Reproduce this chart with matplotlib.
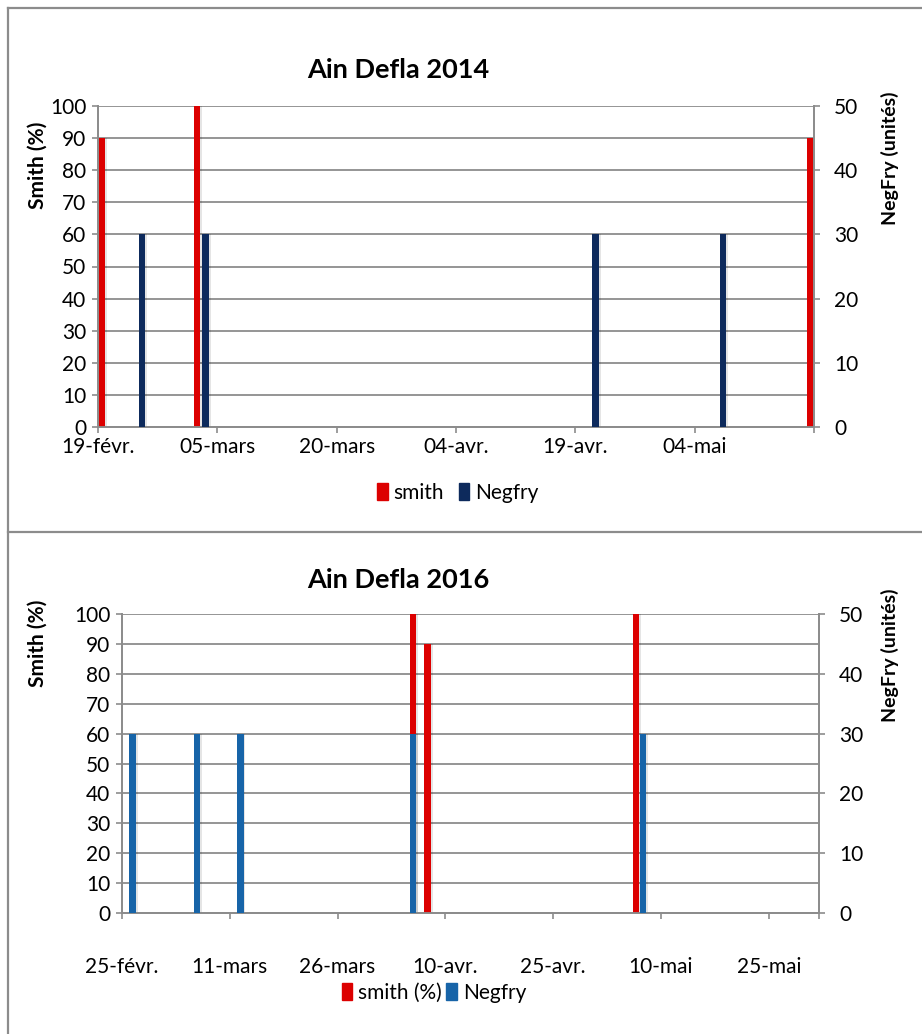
import numpy as np
import matplotlib
matplotlib.use('Agg')
from matplotlib import pyplot as plt
from matplotlib.lines import Line2D
from matplotlib.patches import Patch

plt.rcParams['font.family'] = ['Lato', 'DejaVu Sans']

# abscisses en jours depuis le premier repère de l'axe (19-févr. / 25-févr.)
jours_smith_2014 = [1, 13, 90]
smith_2014 = [90, 100, 90]
jours_negfry_2014 = [5, 13, 62, 78]
negfry_2014 = [30, 30, 30, 30]
reperes_2014 = ['19-févr.', '05-mars', '20-mars', '04-avr.', '19-avr.', '04-mai']
duree_2014 = 90

jours_smith_2016 = [41, 43, 72]
smith_2016 = [100, 90, 100]
jours_negfry_2016 = [1, 10, 16, 40, 72]
negfry_2016 = [30, 30, 30, 30, 30]
reperes_2016 = ['25-févr.', '11-mars', '26-mars', '10-avr.', '25-avr.', '10-mai', '25-mai']
duree_2016 = 97

W, H = 922, 1034
GRIS = '#8c8c8c'
ROUGE = '#dc0000'


def fx(px):
    return px / W


def fy(py):
    return 1 - py / H


def barres(ax, jours, valeurs, decalage, largeur, couleur):
    x = np.array(jours) + decalage
    # ombre légère à droite de chaque barre
    ax.bar(x + largeur * 0.3, valeurs, largeur, color='black', alpha=0.10,
           linewidth=0, zorder=2)
    ax.bar(x, valeurs, largeur, color=couleur, linewidth=0, zorder=3)


def graphique(fig, rect, jours_s, smith, jours_n, negfry, reperes, duree,
              bleu, largeur, decalage, pad_x):
    ax = fig.add_axes(rect)
    ax2 = ax.twinx()

    barres(ax, jours_s, smith, -decalage, largeur, ROUGE)
    barres(ax2, jours_n, negfry, decalage, largeur, bleu)

    ax.set_xlim(0, duree)
    ax.set_ylim(0, 100)
    ax2.set_ylim(0, 50)
    ax.set_yticks(range(0, 101, 10))
    ax2.set_yticks(range(0, 51, 10))

    positions = list(range(0, 15 * len(reperes), 15)) + [duree]
    ax.set_xticks(positions)
    ax.set_xticklabels(reperes + [''])

    ax.set_axisbelow(True)
    ax.grid(axis='y', color=GRIS, linewidth=1.3)
    for a in (ax, ax2):
        a.spines['top'].set_visible(False)
        for side in ('left', 'right', 'bottom'):
            a.spines[side].set_color(GRIS)
            a.spines[side].set_linewidth(1.3)
        a.tick_params(colors=GRIS, labelcolor='black', length=4.5, width=1.2,
                      labelsize=15)
    ax.tick_params(axis='x', pad=pad_x)
    ax.tick_params(axis='y', pad=4)
    ax2.tick_params(axis='y', pad=10)
    return ax, ax2


fig = plt.figure(figsize=(W / 100, H / 100), dpi=100)

# cadres des deux graphiques
for xs, ys in (([fx(8), fx(W)], [fy(8), fy(8)]),
               ([fx(8), fx(8)], [fy(8), 0]),
               ([fx(8), fx(W)], [fy(532), fy(532)])):
    fig.add_artist(Line2D(xs, ys, color=GRIS, linewidth=1.6))

bleu_2014 = '#0d2a5c'
bleu_2016 = '#1764a8'

graphique(fig, [fx(98), fy(427), fx(814) - fx(98), fy(106) - fy(427)],
          jours_smith_2014, smith_2014, jours_negfry_2014, negfry_2014,
          reperes_2014, duree_2014, bleu_2014, 0.8, 0.53, 3)
graphique(fig, [fx(122), fy(913), fx(819) - fx(122), fy(614) - fy(913)],
          jours_smith_2016, smith_2016, jours_negfry_2016, negfry_2016,
          reperes_2016, duree_2016, bleu_2016, 0.88, 0.47, 27)

# titres et libellés d'axes
fig.text(fx(398), fy(70), 'Ain Defla 2014', ha='center', va='center',
         fontsize=19.5, fontweight='bold')
fig.text(fx(398), fy(580), 'Ain Defla 2016', ha='center', va='center',
         fontsize=19.5, fontweight='bold')
for yc in (165, 643):
    fig.text(fx(38), fy(yc), 'Smith (%)', ha='center', va='center',
             rotation=90, fontsize=15, fontweight='bold')
for yc in (158, 655):
    fig.text(fx(890), fy(yc), 'NegFry (unités)', ha='center', va='center',
             rotation=90, fontsize=14, fontweight='bold')

# légendes
fig.legend(handles=[Patch(color=ROUGE, label='smith'),
                    Patch(color=bleu_2014, label='Negfry')],
           loc='center', bbox_to_anchor=(fx(458), fy(493)), ncol=2,
           frameon=False, fontsize=15, handlelength=0.5, handleheight=0.9,
           handletextpad=0.3, columnspacing=0.7)
fig.legend(handles=[Patch(color=ROUGE, label='smith (%)'),
                    Patch(color=bleu_2016, label='Negfry')],
           loc='center', bbox_to_anchor=(fx(434), fy(993)), ncol=2,
           frameon=False, fontsize=15, handlelength=0.5, handleheight=0.9,
           handletextpad=0.3, columnspacing=0.2)

fig.savefig('out.png', dpi=100)
